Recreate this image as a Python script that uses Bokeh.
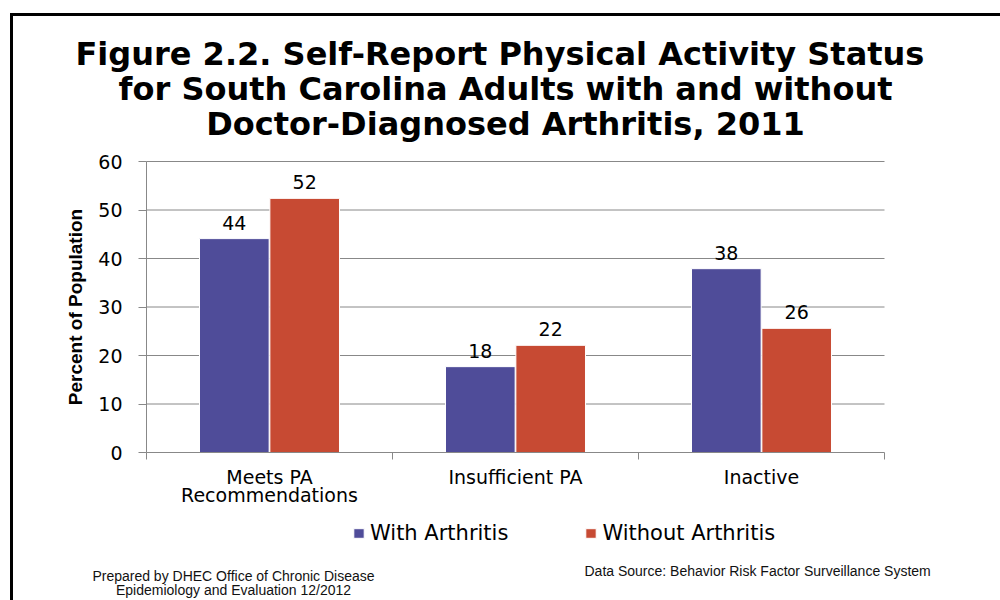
import math
from bokeh.plotting import figure
from bokeh.models import (Range1d, FixedTicker, Label, LabelSet, ColumnDataSource,
                          Legend, LegendItem)
from bokeh.embed import file_html
from bokeh.resources import INLINE
from bokeh.core.properties import value

# ---------------- data ----------------
categories = ["Meets PA Recommendations", "Insufficient PA", "Inactive"]
category_labels = ["Meets PA\nRecommendations", "Insufficient PA", "Inactive"]
series_names = ["With Arthritis", "Without Arthritis"]
with_arthritis = [44.1, 17.7, 37.9]
without_arthritis = [52.4, 22.1, 25.6]
with_labels = ["44", "18", "38"]
without_labels = ["52", "22", "26"]
y_ticks = [0, 10, 20, 30, 40, 50, 60]
title_lines = ["Figure 2.2.  Self-Report Physical Activity Status",
               "for South Carolina Adults with and without",
               "Doctor-Diagnosed Arthritis, 2011"]
y_title = "Percent of Population"
footer_left = ["Prepared by DHEC Office of Chronic Disease",
               "Epidemiology and Evaluation 12/2012"]
footer_right = "Data Source:  Behavior Risk Factor Surveillance System"

# ---------------- layout (pixels) ----------------
W, H = 1000, 600
CL, CR, CT, CB = 146, 884, 161, 452      # chart area
FL, FT = 60, 25                          # frame left / top (frame reaches right & bottom edges)
NCAT = len(categories)
YMAX = y_ticks[-1]
PX_X = (CR - CL) / NCAT
PX_Y = (CB - CT) / YMAX

def dx(px):
    return (px - CL) / PX_X

def dy(py):
    return (CB - py) / PX_Y

BLUE = "#4F4C99"
RED = "#C74A33"
GRAY = "#888888"
CHART_FONT = "DejaVu Sans"
NOTE_FONT = "Liberation Sans"

p = figure(width=W, height=H,
           x_range=Range1d(dx(FL), dx(W)), y_range=Range1d(dy(H), dy(FT)),
           min_border_left=FL, min_border_right=0, min_border_top=FT, min_border_bottom=0,
           output_backend="svg", toolbar_location=None, title_location=None,
           x_axis_location="above", y_axis_location="left",
           background_fill_color="white", border_fill_color=None)
p.outline_line_color = None
p.xgrid.visible = False
p.ygrid.visible = False
# slide frame: thick black top and left edges, painted as the background behind the canvas
p.styles = {
    "background-color": "white",
    "background-image": "linear-gradient(#000,#000), linear-gradient(#000,#000)",
    "background-size": "3px 587px, 990px 3px",
    "background-position": "10px 13px, 10px 13px",
    "background-repeat": "no-repeat, no-repeat",
}

# horizontal grid lines at the y ticks
p.segment(x0=[0] * (len(y_ticks) - 1), x1=[NCAT] * (len(y_ticks) - 1),
          y0=y_ticks[1:], y1=y_ticks[1:], line_color=GRAY, line_width=1)

off, bw = 0.143, 0.283
src = ColumnDataSource(dict(
    x_with=[i + 0.5 - off for i in range(NCAT)],
    x_without=[i + 0.5 + off for i in range(NCAT)],
    with_v=with_arthritis, without_v=without_arthritis,
    with_l=with_labels, without_l=without_labels,
))
r1 = p.vbar(x="x_with", top="with_v", bottom=0, width=bw, source=src,
            fill_color=BLUE, line_color="white", line_width=1)
r2 = p.vbar(x="x_without", top="without_v", bottom=0, width=bw, source=src,
            fill_color=RED, line_color="white", line_width=1)

for xcol, ycol, tcol in [("x_with", "with_v", "with_l"), ("x_without", "without_v", "without_l")]:
    p.add_layout(LabelSet(x=xcol, y=ycol, text=tcol, source=src, text_align="center",
                          text_baseline="alphabetic", y_offset=9,
                          text_font=value(CHART_FONT), text_font_size=value("19px"),
                          text_color="black"))

# ---------------- axes ----------------
ya = p.yaxis[0]
ya.fixed_location = 0
ya.bounds = (0, YMAX)
ya.ticker = FixedTicker(ticks=y_ticks)
ya.major_tick_out = 8
ya.major_tick_in = 0
ya.minor_tick_line_color = None
ya.axis_line_color = GRAY
ya.major_tick_line_color = GRAY
ya.major_label_text_font = CHART_FONT
ya.major_label_text_font_size = "19px"
ya.major_label_text_color = "black"
ya.major_label_standoff = 16

xa = p.xaxis[0]
xa.fixed_location = 0
xa.bounds = (0, NCAT)
xa.ticker = FixedTicker(ticks=list(range(NCAT + 1)))
xa.major_label_overrides = {i: "" for i in range(NCAT + 1)}
xa.major_label_text_font_size = "1px"
xa.major_label_standoff = 0
xa.major_tick_out = 0
xa.major_tick_in = 7
xa.major_tick_line_color = GRAY
xa.minor_tick_line_color = None
xa.axis_line_color = GRAY

# category labels below the axis
cat_lines = [lab.split("\n") for lab in category_labels]
cat_src = ColumnDataSource(dict(
    x=[i + 0.5 for i in range(NCAT)], y=[0] * NCAT,
    l1=[c[0] for c in cat_lines],
    l2=[c[1] if len(c) > 1 else "" for c in cat_lines],
))
for col, yo in [("l1", -31), ("l2", -49)]:
    p.add_layout(LabelSet(x="x", y="y", text=col, source=cat_src, text_align="center",
                          text_baseline="alphabetic", y_offset=yo,
                          text_font=value(CHART_FONT), text_font_size=value("19px"),
                          text_color="black"))

# ---------------- title ----------------
title_src = ColumnDataSource(dict(
    x=[dx(505)] * len(title_lines), y=[dy(b) for b in [64, 99, 134]], t=title_lines))
p.add_layout(LabelSet(x="x", y="y", text="t", source=title_src, text_align="center",
                      text_baseline="alphabetic", text_font=value(CHART_FONT),
                      text_font_style=value("bold"), text_font_size=value("32px"),
                      text_color="black"))

# y axis title
p.add_layout(Label(x=dx(75), y=dy((CT + CB) / 2), text=y_title, angle=math.pi / 2,
                   text_align="center", text_baseline="middle",
                   text_font=NOTE_FONT, text_font_style="bold",
                   text_font_size="19px", text_color="black"))

# ---------------- legend ----------------
legend = Legend(items=[LegendItem(label=series_names[0], renderers=[r1]),
                       LegendItem(label=series_names[1], renderers=[r2])],
                location=(352 - FL, 55), orientation="horizontal", padding=0, margin=0,
                spacing=76, glyph_width=13, glyph_height=12, label_standoff=5,
                label_height=12, label_text_font=CHART_FONT,
                label_text_font_size="21px", label_text_color="black",
                border_line_color=None, background_fill_alpha=0)
p.add_layout(legend)

# ---------------- footers ----------------
foot_src = ColumnDataSource(dict(
    x=[dx(233)] * len(footer_left), y=[dy(b) for b in [580, 594]], t=footer_left))
p.add_layout(LabelSet(x="x", y="y", text="t", source=foot_src, text_align="center",
                      text_baseline="alphabetic", text_font=value(NOTE_FONT),
                      text_font_size=value("14px"), text_color="#111111"))
src_note = ColumnDataSource(dict(x=[dx(584)], y=[dy(575)], t=[footer_right]))
p.add_layout(LabelSet(x="x", y="y", text="t", source=src_note, text_align="left",
                      text_baseline="alphabetic", text_font=value(NOTE_FONT),
                      text_font_size=value("14px"), text_color="#111111"))

open("out.html", "w").write(file_html(p, INLINE))
